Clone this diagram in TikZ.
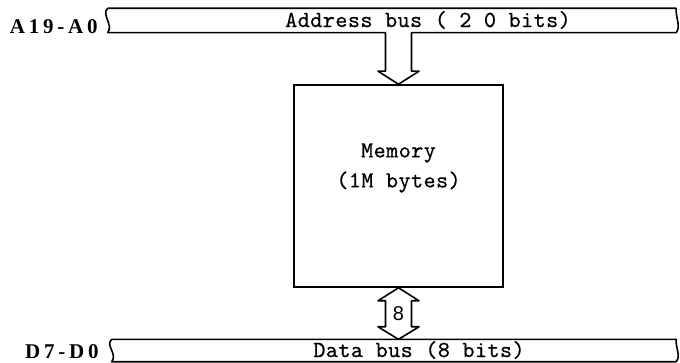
\documentclass[tikz,border=0pt]{standalone}
\usepackage{fontspec}
\setmainfont{Liberation Serif}
\newfontfamily\typefont[LetterSpace=2, FakeBold=0.5]{lmmono10-regular.otf}
\newfontfamily\pinfont[LetterSpace=18]{Liberation Serif}
\newfontfamily\widthfont{Liberation Sans}
\usetikzlibrary{calc}
\begin{document}
\begin{tikzpicture}[x=1pt,y=-1pt,
  busline/.style={line width=1.6pt, line join=round, line cap=round},
  busarea/.style={draw=none, inner sep=0pt},
  bustext/.style={font=\typefont\fontsize{23}{26}\selectfont, inner sep=0pt},
  pinlabel/.style={font=\pinfont\bfseries\fontsize{21}{24}\selectfont, anchor=east, inner sep=0pt},
  membox/.style={draw, line width=1.6pt, minimum width=209pt, minimum height=202pt, inner sep=0pt},
  memtext/.style={font=\typefont\fontsize{23}{30}\selectfont, align=center, inner sep=0pt},
  widthtext/.style={font=\widthfont\fontsize{20}{22}\selectfont, inner sep=0pt}]
\useasboundingbox (0,0) rectangle (680,363);

% memory block
\node[membox] (mem) at (398.5,186) {};
\node[memtext] (memlbl) at ($(mem.center)+(0,-18)$) {Memory\\(1M bytes)};

% bus outlines (invisible frames; their edges are drawn below)
\node[busarea, minimum width=568pt, minimum height=24pt] (abus) at (392,20.5) {};
\node[busarea, minimum width=564pt, minimum height=22pt] (dbus) at (394,350.5) {};

% address bus with the one-way arrow into the memory
\coordinate (ashl) at ($(mem.north)+(-13,-13)$);
\coordinate (ashr) at ($(mem.north)+(13,-13)$);
\draw[busline]
  (abus.north east) -- (abus.north west)
  .. controls +(-7,6) and +(6,-8) .. (abus.south west)
  -- (abus.south -| ashl) -- (ashl) -- ++(-7.5,0) -- (mem.north)
  -- ($(ashr)+(7.5,0)$) -- (ashr) -- (abus.south -| ashr)
  -- (abus.south east)
  .. controls +(5,-6) and +(-1,8) .. (abus.north east);

% data bus
\draw[busline]
  (dbus.south east) -- (dbus.south west)
  .. controls +(6,-8) and +(-7,6) .. (dbus.north west)
  -- (dbus.north east)
  .. controls +(-1,8) and +(5,-6) .. (dbus.south east);

% two-way arrow between memory and data bus
\coordinate (dtip) at (dbus.north -| mem.south);
\draw[busline]
  (mem.south) -- ++(-20.5,13) -- ++(7.5,0)
  -- ($(dtip)+(-13,-12.5)$) -- ++(-7.5,0) -- (dtip)
  -- ++(20.5,-12.5) -- ++(-7.5,0)
  -- ($(mem.south)+(13,13)$) -- ++(7.5,0) -- cycle;
\node[widthtext] (dwidth) at ($(mem.south)!0.5!(dtip)$) {8};

% bus captions and pin labels
\node[bustext] (atext) at (428,20) {Address bus ( 2 0 bits)};
\node[bustext] (dtext) at (419,350) {Data bus (8 bits)};
\node[pinlabel] (apins) at ($(abus.west)+(-10,6)$) {A19-A0};
\node[pinlabel] (dpins) at ($(dbus.west)+(-13,1)$) {D7-D0};
\end{tikzpicture}
\end{document}
